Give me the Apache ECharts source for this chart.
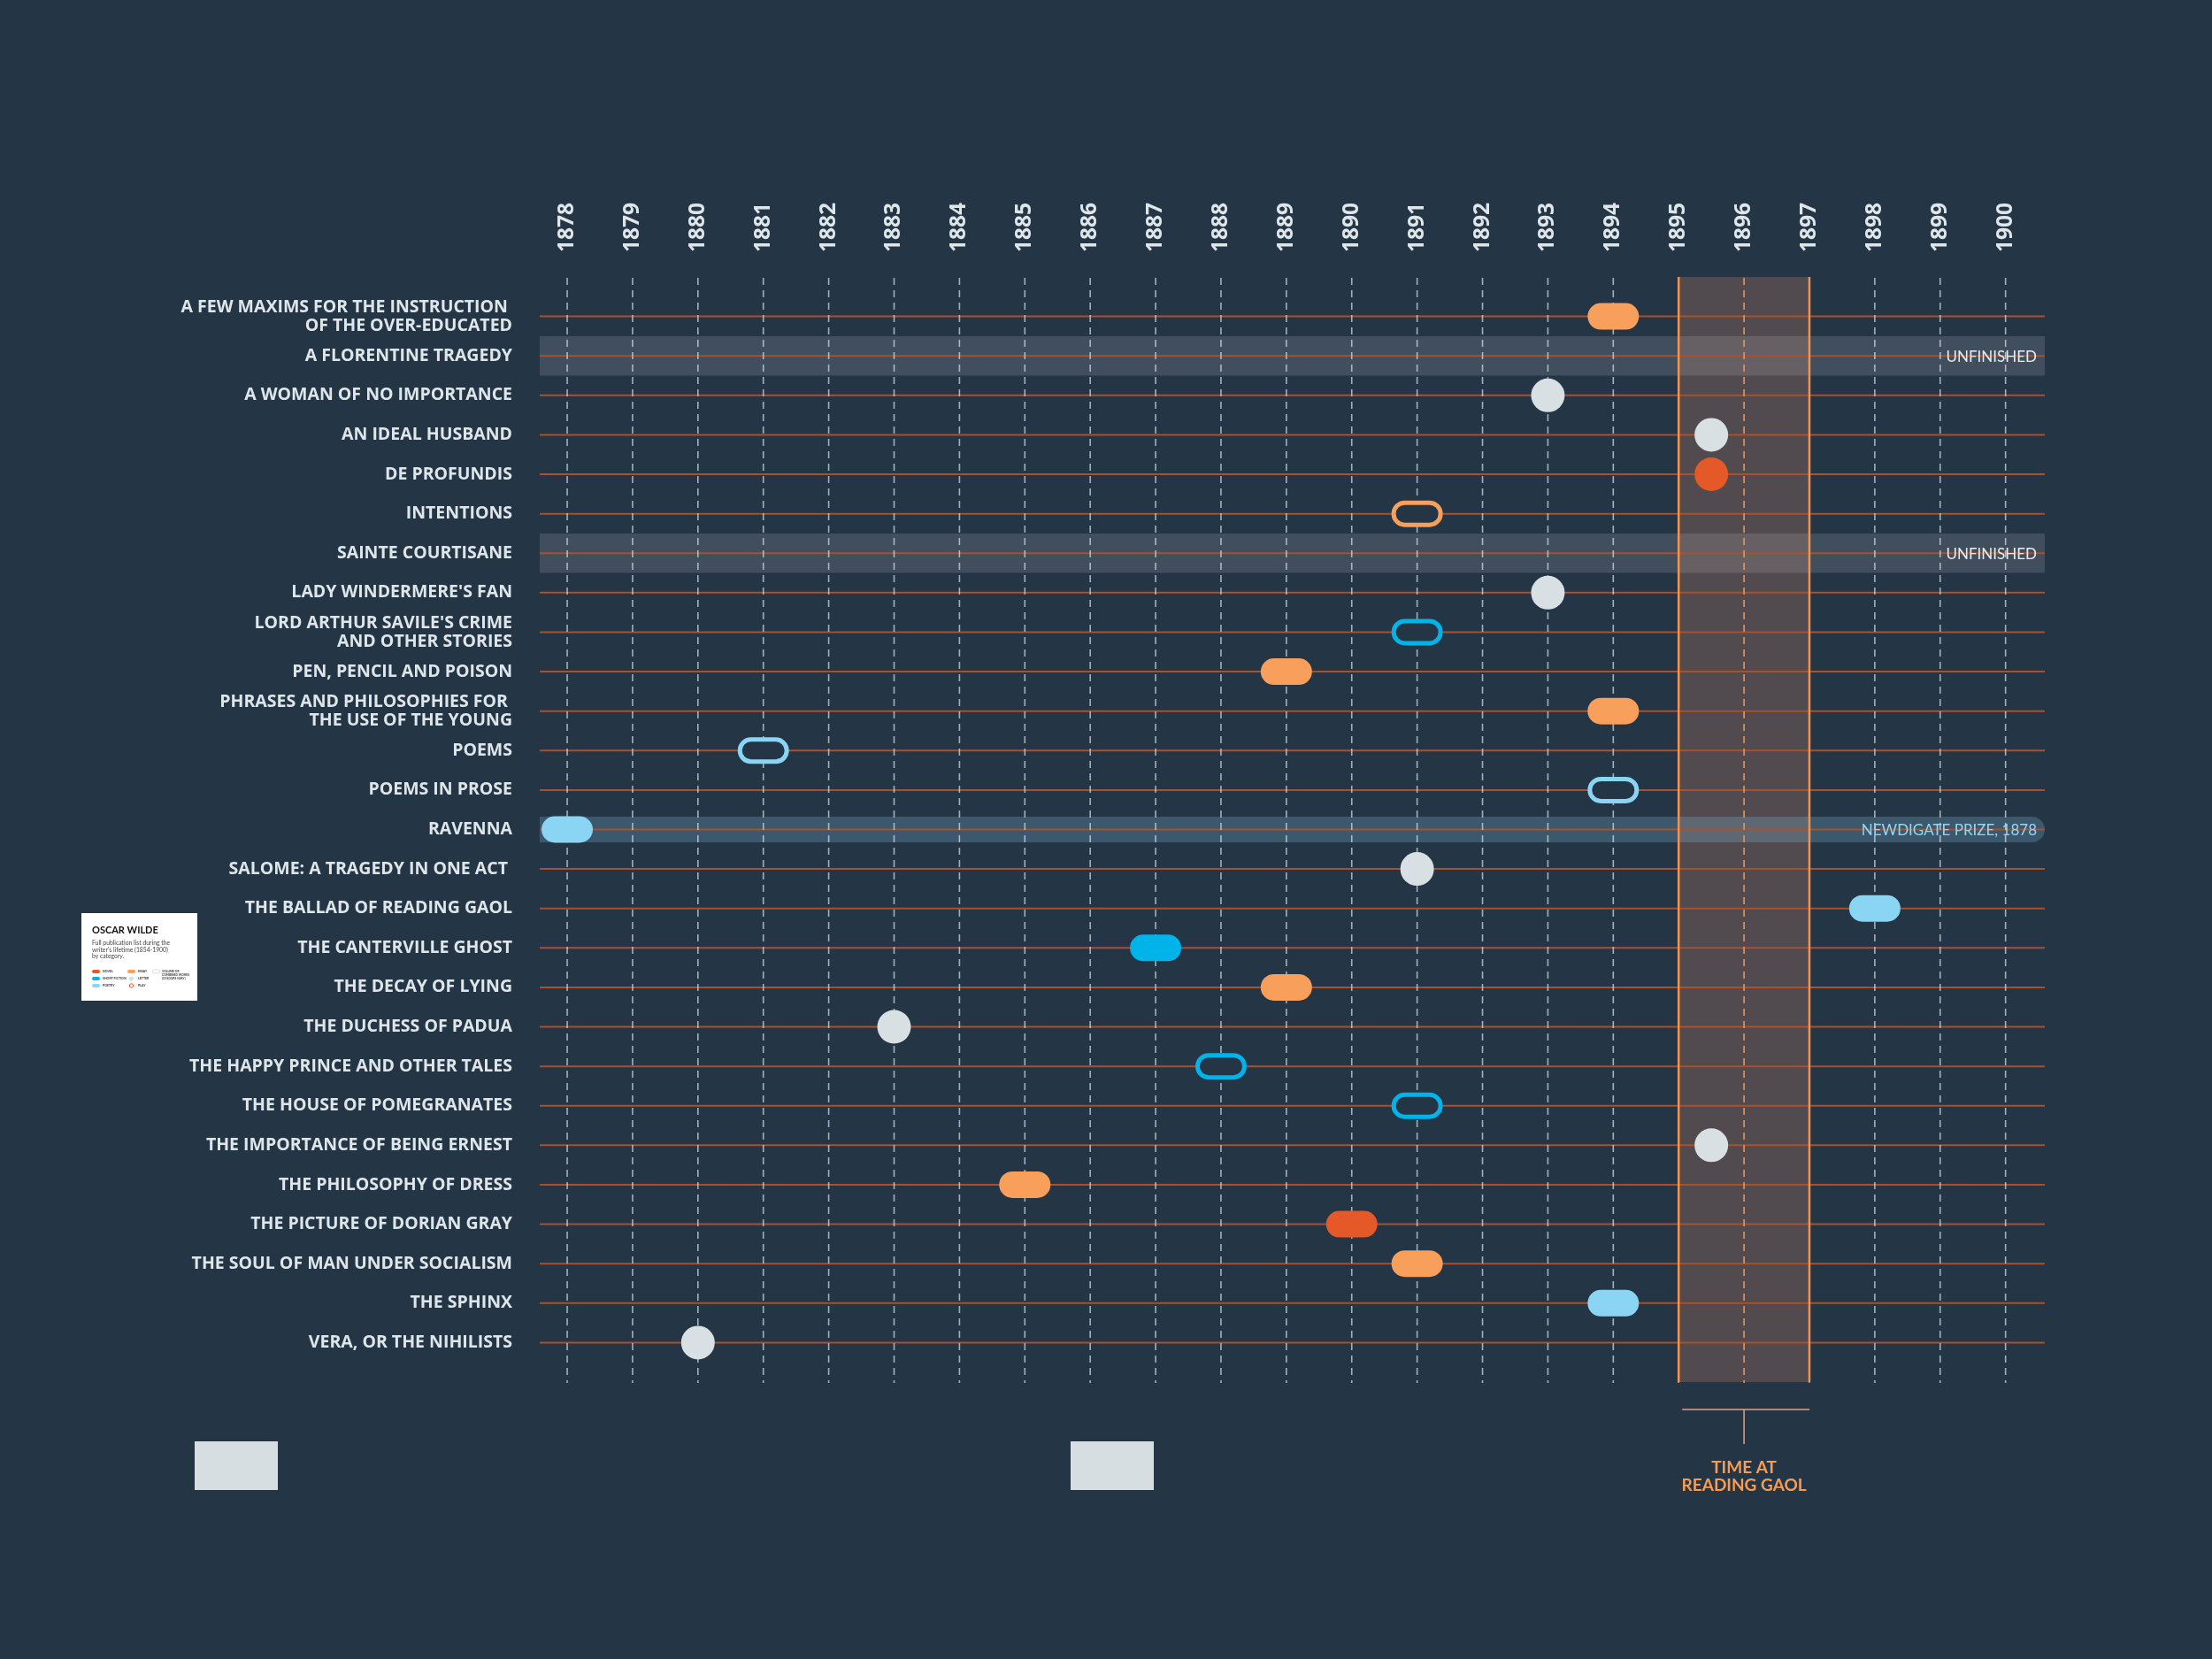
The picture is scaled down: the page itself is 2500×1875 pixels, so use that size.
<!DOCTYPE html>
<html><head><meta charset="utf-8">
<script src="https://cdn.jsdelivr.net/npm/echarts@6/dist/echarts.min.js"></script>
<style>html,body{margin:0;padding:0;background:#243546}#c{width:2500px;height:1875px}</style>
</head><body><div id="c"></div>
<script>
// ---------- DATA ----------
const works = [
  "A FEW MAXIMS FOR THE INSTRUCTION \nOF THE OVER-EDUCATED",
  "A FLORENTINE TRAGEDY",
  "A WOMAN OF NO IMPORTANCE",
  "AN IDEAL HUSBAND",
  "DE PROFUNDIS",
  "INTENTIONS",
  "SAINTE COURTISANE",
  "LADY WINDERMERE'S FAN",
  "LORD ARTHUR SAVILE'S CRIME\nAND OTHER STORIES",
  "PEN, PENCIL AND POISON",
  "PHRASES AND PHILOSOPHIES FOR \nTHE USE OF THE YOUNG",
  "POEMS",
  "POEMS IN PROSE",
  "RAVENNA",
  "SALOME: A TRAGEDY IN ONE ACT ",
  "THE BALLAD OF READING GAOL",
  "THE CANTERVILLE GHOST",
  "THE DECAY OF LYING",
  "THE DUCHESS OF PADUA",
  "THE HAPPY PRINCE AND OTHER TALES",
  "THE HOUSE OF POMEGRANATES",
  "THE IMPORTANCE OF BEING ERNEST",
  "THE PHILOSOPHY OF DRESS",
  "THE PICTURE OF DORIAN GRAY",
  "THE SOUL OF MAN UNDER SOCIALISM",
  "THE SPHINX",
  "VERA, OR THE NIHILISTS"
];
const pubYear = [1894, null, 1893, 1895.5, 1895.5, 1891, null, 1893, 1891, 1889, 1894, 1881, 1894, 1878, 1891, 1898, 1887, 1889, 1883, 1888, 1891, 1895.5, 1885, 1890, 1891, 1894, 1880];
const markShape = ['pill', null, 'circle', 'circle', 'circle', 'outline', null, 'circle', 'outline', 'pill', 'pill', 'outline', 'outline', 'pill', 'circle', 'pill', 'pill', 'pill', 'circle', 'outline', 'outline', 'circle', 'pill', 'pill', 'pill', 'pill', 'circle'];
const markKind = ['essay', null, 'play', 'play', 'letter', 'essay', null, 'play', 'short', 'essay', 'essay', 'poetry', 'poetry', 'poetry', 'play', 'poetry', 'short', 'essay', 'play', 'short', 'short', 'play', 'essay', 'novel', 'essay', 'poetry', 'play'];
const noteRows = [1, 6, 13];
const noteText = ['UNFINISHED', 'UNFINISHED', 'NEWDIGATE PRIZE, 1878'];
const noteKind = ['unfinished', 'unfinished', 'prize'];
const yearTicks = [1878, 1879, 1880, 1881, 1882, 1883, 1884, 1885, 1886, 1887, 1888, 1889, 1890, 1891, 1892, 1893, 1894, 1895, 1896, 1897, 1898, 1899, 1900];
const gaolStart = 1895, gaolEnd = 1897;

// ---------- STYLE ----------
const BG = '#243546';
const kindColor = {novel:'#e55827', short:'#00b3e8', poetry:'#8ad5f3', essay:'#f79f5b', play:'#d9e0e4', letter:'#e55827'};
const X_MIN = 1877.58, X_MAX = 1900.6, Y_MIN = -1, Y_MAX = 27;
const FONT = 'Lato';
const LABEL_FONT = '"Open Sans"';

const marks = [];
pubYear.forEach((y, i) => { if (y !== null) marks.push({year: y, row: i, shape: markShape[i], kind: markKind[i]}); });

const chart = echarts.init(document.getElementById('c'), null, {renderer: 'canvas'});

const option = {
  backgroundColor: BG,
  animation: false,
  grid: {left: 610, right: 189, top: 313, bottom: 313, containLabel: false, outerBoundsMode: 'none'},
  xAxis: {
    type: 'value', position: 'top', min: X_MIN, max: X_MAX,
    axisLine: {show: false}, axisTick: {show: false}, splitLine: {show: false},
    axisLabel: {
      customValues: yearTicks, rotate: 90, margin: 28,
      color: '#dfe6ea', fontFamily: LABEL_FONT, fontWeight: 'bold', fontSize: 24.5,
      formatter: v => String(Math.round(v))
    }
  },
  yAxis: {
    type: 'value', inverse: true, min: Y_MIN, max: Y_MAX, interval: 1,
    axisLine: {show: false}, axisTick: {show: false}, splitLine: {show: false},
    axisLabel: {
      margin: 31, color: '#dfe6ea', fontFamily: LABEL_FONT, fontWeight: 'bold', fontSize: 19.5, lineHeight: 21,
      formatter: v => (Number.isInteger(v) && v >= 0 && v < works.length) ? works[v] : ''
    }
  },
  series: [
    // Reading Gaol period box
    {
      type: 'custom', z: 1, silent: true, clip: false,
      data: [[gaolStart, 0, gaolEnd]],
      renderItem(params, api) {
        const s = api.value(0), e = api.value(2);
        const tl = api.coord([s, Y_MIN]), br = api.coord([e, Y_MAX]);
        return {type: 'rect', shape: {x: tl[0], y: tl[1], width: br[0] - tl[0], height: br[1] - tl[1]}, style: {fill: '#514a4e'}};
      }
    },
    // note bands
    {
      type: 'custom', z: 2, silent: true,
      data: noteRows.map(r => [X_MIN, r]),
      renderItem(params, api) {
        const i = params.dataIndex;
        const row = api.value(1);
        const l = api.coord([X_MIN, row]), r = api.coord([X_MAX, row]);
        const top = api.coord([X_MIN, row - 0.5]), bot = api.coord([X_MIN, row + 0.5]);
        if (noteKind[i] === 'unfinished') {
          return {type: 'rect', shape: {x: l[0], y: top[1], width: r[0] - l[0], height: bot[1] - top[1]}, style: {fill: 'rgba(228,222,225,0.15)'}};
        }
        return {type: 'rect', shape: {x: l[0], y: l[1] - 14.5, width: r[0] - l[0], height: 29, r: [0, 14.5, 14.5, 0]}, style: {fill: 'rgba(140,212,248,0.22)'}};
      }
    },
    // row lines
    {
      type: 'custom', z: 3, silent: true,
      data: works.map((w, i) => [X_MIN, i]),
      renderItem(params, api) {
        const row = api.value(1);
        const a = api.coord([X_MIN, row]), b = api.coord([X_MAX, row]);
        return {type: 'line', shape: {x1: a[0], y1: a[1], x2: b[0], y2: b[1]}, style: {stroke: '#a9502f', lineWidth: 2}};
      }
    },
    // year grid lines
    {
      type: 'custom', z: 4, silent: true,
      data: yearTicks.map(y => [y, 0]),
      renderItem(params, api) {
        const yr = api.value(0);
        const a = api.coord([yr, Y_MIN]), b = api.coord([yr, Y_MAX]);
        const inGaol = yr > gaolStart && yr < gaolEnd;
        return {type: 'line', shape: {x1: a[0], y1: a[1] + 1, x2: b[0], y2: b[1] + 1}, style: {stroke: inGaol ? '#f0954f' : 'rgba(214,224,232,0.72)', lineWidth: 1.6, lineDash: [8, 6]}};
      }
    },
    // note texts
    {
      type: 'custom', z: 4.5, silent: true,
      data: noteRows.map(r => [X_MAX, r]),
      renderItem(params, api) {
        const i = params.dataIndex;
        const p = api.coord([X_MAX, api.value(1)]);
        return {type: 'text', x: p[0] - 9, y: p[1] + 1, style: {text: noteText[i], fill: noteKind[i] === 'prize' ? '#8fd8f4' : '#e6ebee', font: '17px ' + FONT, align: 'right', verticalAlign: 'middle'}};
      }
    },
    // gaol borders + bracket annotation
    {
      type: 'custom', z: 5, silent: true, clip: false,
      data: [[gaolStart, 0, gaolEnd]],
      renderItem(params, api) {
        const s = api.value(0), e = api.value(2);
        const tl = api.coord([s, Y_MIN]), br = api.coord([e, Y_MAX]);
        const mid = (tl[0] + br[0]) / 2;
        const st = {stroke: '#f29450', lineWidth: 2.5};
        return {type: 'group', children: [
          {type: 'line', shape: {x1: tl[0], y1: tl[1], x2: tl[0], y2: br[1]}, style: st},
          {type: 'line', shape: {x1: br[0], y1: tl[1], x2: br[0], y2: br[1]}, style: st},
          {type: 'line', shape: {x1: tl[0] + 4, y1: br[1] + 31, x2: br[0], y2: br[1] + 31}, style: {stroke: '#e8a274', lineWidth: 1.5}},
          {type: 'line', shape: {x1: mid, y1: br[1] + 31, x2: mid, y2: br[1] + 70}, style: {stroke: '#e8a274', lineWidth: 1.5}},
          {type: 'text', x: mid, y: br[1] + 87, style: {text: 'TIME AT\nREADING GAOL', fill: '#f59c55', font: 'bold 19px ' + FONT, lineHeight: 20, align: 'center', verticalAlign: 'top'}}
        ]};
      }
    },
    // publication markers
    {
      type: 'custom', z: 10, silent: true,
      data: marks.map(m => [m.year, m.row]),
      renderItem(params, api) {
        const m = marks[params.dataIndex];
        const p = api.coord([api.value(0), api.value(1)]);
        const c = kindColor[m.kind];
        if (m.shape === 'circle') {
          return {type: 'circle', shape: {cx: p[0], cy: p[1], r: 19}, style: {fill: c}};
        }
        if (m.shape === 'outline') {
          return {type: 'rect', shape: {x: p[0] - 26.5, y: p[1] - 12.5, width: 53, height: 25, r: 12.5}, style: {fill: BG, stroke: c, lineWidth: 5}};
        }
        return {type: 'rect', shape: {x: p[0] - 29, y: p[1] - 15, width: 58, height: 30, r: 15}, style: {fill: c}};
      }
    }
  ],
  graphic: [
    // legend card
    {type: 'rect', shape: {x: 92, y: 1032, width: 131, height: 99}, style: {fill: '#ffffff'}},
    {type: 'text', x: 104, y: 1046, style: {text: 'OSCAR WILDE', font: 'bold 11px ' + FONT, fill: '#111'}},
    {type: 'text', x: 104, y: 1062, style: {text: "Full publication list during the\nwriter's lifetime (1854-1900)\nby category.", font: '6.8px ' + FONT, lineHeight: 7.7, fill: '#444'}},
    {type: 'rect', shape: {x: 104, y: 1096, width: 9, height: 4, r: 2}, style: {fill: '#e55827'}},
    {type: 'text', x: 116, y: 1098, style: {text: 'NOVEL', font: 'bold 3.5px ' + FONT, fill: '#333', verticalAlign: 'middle'}},
    {type: 'rect', shape: {x: 104, y: 1104, width: 9, height: 4, r: 2}, style: {fill: '#00b3e8'}},
    {type: 'text', x: 116, y: 1106, style: {text: 'SHORT FICTION', font: 'bold 3.5px ' + FONT, fill: '#333', verticalAlign: 'middle'}},
    {type: 'rect', shape: {x: 104, y: 1112, width: 9, height: 4, r: 2}, style: {fill: '#8ad5f3'}},
    {type: 'text', x: 116, y: 1114, style: {text: 'POETRY', font: 'bold 3.5px ' + FONT, fill: '#333', verticalAlign: 'middle'}},
    {type: 'rect', shape: {x: 144, y: 1096, width: 9, height: 4, r: 2}, style: {fill: '#f79f5b'}},
    {type: 'text', x: 156, y: 1098, style: {text: 'ESSAY', font: 'bold 3.5px ' + FONT, fill: '#333', verticalAlign: 'middle'}},
    {type: 'circle', shape: {cx: 148.5, cy: 1106, r: 2.6}, style: {fill: '#d9e0e4'}},
    {type: 'text', x: 156, y: 1106, style: {text: 'LETTER', font: 'bold 3.5px ' + FONT, fill: '#333', verticalAlign: 'middle'}},
    {type: 'circle', shape: {cx: 148.5, cy: 1114, r: 2.2}, style: {fill: '#fff', stroke: '#e55827', lineWidth: 1}},
    {type: 'text', x: 156, y: 1114, style: {text: 'PLAY', font: 'bold 3.5px ' + FONT, fill: '#333', verticalAlign: 'middle'}},
    {type: 'rect', shape: {x: 172, y: 1096, width: 9, height: 4, r: 2}, style: {fill: '#fff', stroke: '#d0d6da', lineWidth: 0.8}},
    {type: 'text', x: 183, y: 1096.5, style: {text: 'VOLUME OR\nCOMBINED WORKS\n(COLOURS VARY)', font: 'bold 3.3px ' + FONT, lineHeight: 3.8, fill: '#333'}},
    // bottom blocks
    {type: 'rect', shape: {x: 220, y: 1629, width: 94, height: 55}, style: {fill: '#d6dee2'}},
    {type: 'rect', shape: {x: 1210, y: 1629, width: 94, height: 55}, style: {fill: '#d6dee2'}}
  ]
};
chart.setOption(option);
</script>
</body></html>
